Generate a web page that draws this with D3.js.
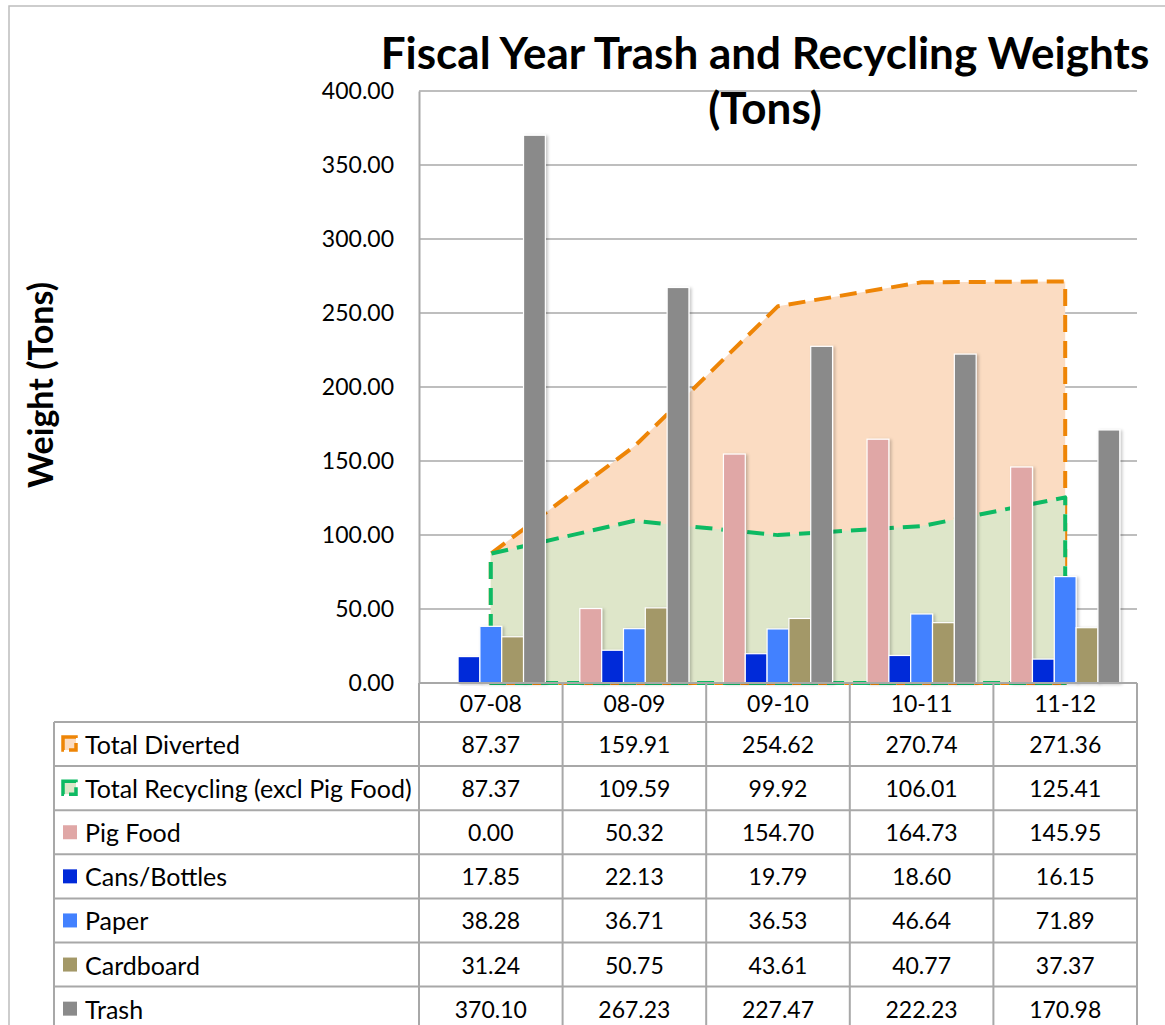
<!DOCTYPE html>
<html>
<head>
<meta charset="utf-8">
<script src="https://cdn.jsdelivr.net/npm/d3@7"></script>
<style>
  html, body { margin: 0; padding: 0; background: #fff; }
  svg { display: block; font-family: Lato, "Open Sans", sans-serif; }
</style>
</head>
<body>
<svg id="chart" width="1165" height="1025"></svg>
<script>
// Fiscal years and tonnage per stream
const categories = ["07-08", "08-09", "09-10", "10-11", "11-12"];
const totalDiverted  = [87.37, 159.91, 254.62, 270.74, 271.36];
const totalRecycling = [87.37, 109.59, 99.92, 106.01, 125.41];
const pigFood   = [0.00, 50.32, 154.70, 164.73, 145.95];
const cans      = [17.85, 22.13, 19.79, 18.60, 16.15];
const paper     = [38.28, 36.71, 36.53, 46.64, 71.89];
const cardboard = [31.24, 50.75, 43.61, 40.77, 37.37];
const trash     = [370.10, 267.23, 227.47, 222.23, 170.98];
const yTicks = [0, 50, 100, 150, 200, 250, 300, 350, 400];

const areaSeries = [
  { name: "Total Diverted", values: totalDiverted, fill: "#FBDCC2", stroke: "#EE8506" },
  { name: "Total Recycling (excl Pig Food)", values: totalRecycling, fill: "#DEE6C9", stroke: "#0DBA63" }
];
const barSeries = [
  { name: "Pig Food", values: pigFood, color: "#E0A7A6" },
  { name: "Cans/Bottles", values: cans, color: "#0029D9" },
  { name: "Paper", values: paper, color: "#4281FF" },
  { name: "Cardboard", values: cardboard, color: "#A39867" },
  { name: "Trash", values: trash, color: "#8A8A8A" }
];

const svg = d3.select("#chart");
const plot = { left: 419, right: 1137, top: 91, bottom: 683 };
const gridColor = "#A8A8A8";

// outer chart frame
svg.append("rect").attr("x", 9).attr("y", 6).attr("width", 1180).attr("height", 1040)
  .attr("fill", "none").attr("stroke", "#BDBDBD").attr("stroke-width", 1.5);

const defs = svg.append("defs");
const shadow = defs.append("filter").attr("id", "barShadow")
  .attr("x", "-30%").attr("y", "-10%").attr("width", "160%").attr("height", "120%");
shadow.append("feDropShadow").attr("dx", 2).attr("dy", 1).attr("stdDeviation", 1.5)
  .attr("flood-color", "#000").attr("flood-opacity", 0.22);

const x0 = d3.scaleBand().domain(categories).range([plot.left, plot.right]).paddingInner(0).paddingOuter(0);
const x1 = d3.scaleBand().domain(barSeries.map(s => s.name)).range([0, x0.bandwidth()])
  .paddingInner(0).paddingOuter(0.79);
const y = d3.scaleLinear().domain([0, 400]).range([plot.bottom, plot.top]);

// gridlines
svg.append("g").selectAll("line").data(yTicks.filter(t => t > 0)).join("line")
  .attr("x1", plot.left).attr("x2", plot.right)
  .attr("y1", d => y(d)).attr("y2", d => y(d))
  .attr("stroke", gridColor).attr("stroke-width", 1.5);

// y axis
const yAxis = svg.append("g").attr("transform", `translate(${plot.left},0)`)
  .call(d3.axisLeft(y).tickValues(yTicks).tickFormat(d3.format(".2f")).tickSize(0).tickPadding(25));
yAxis.select(".domain").attr("stroke", gridColor).attr("stroke-width", 2);
yAxis.selectAll("text").attr("font-size", 23).attr("fill", "#000").attr("font-family", "Lato");

// areas drawn behind the columns, with dashed outlines
const cx = c => x0(c) + x0.bandwidth() / 2;
areaSeries.forEach(s => {
  const pts = categories.map((c, i) => [cx(c), y(s.values[i])]);
  const poly = [[pts[0][0], y(0)], ...pts, [pts[pts.length - 1][0], y(0)]];
  svg.append("path")
    .attr("d", d3.line()(poly) + "Z")
    .attr("fill", s.fill)
    .attr("stroke", s.stroke).attr("stroke-width", 4)
    .attr("stroke-dasharray", "17,9").attr("stroke-linejoin", "round");
});

// clustered columns
const groups = svg.append("g").selectAll("g").data(categories).join("g")
  .attr("transform", c => `translate(${x0(c)},0)`);
barSeries.forEach(s => {
  groups.append("rect")
    .attr("x", x1(s.name))
    .attr("width", x1.bandwidth())
    .attr("y", (c, i) => y(s.values[i]))
    .attr("height", (c, i) => y(0) - y(s.values[i]))
    .attr("fill", s.color)
    .attr("stroke", "#fff").attr("stroke-width", 1.2)
    .attr("filter", "url(#barShadow)")
    .style("display", (c, i) => s.values[i] > 0 ? null : "none");
});

// data table under the plot
const table = { left: 54, headerTop: plot.bottom, top: 722, rowH: 44.1 };
const rows = [...areaSeries, ...barSeries];
const tg = svg.append("g");
const lineAttr = sel => sel.attr("stroke", gridColor).attr("stroke-width", 2);

// header cells (year labels)
categories.forEach(c => {
  tg.append("text").attr("x", cx(c)).attr("y", (table.headerTop + table.top) / 2)
    .attr("text-anchor", "middle").attr("dominant-baseline", "central")
    .attr("font-size", 23).text(c);
});
// horizontal rules
lineAttr(tg.append("line").attr("x1", plot.left).attr("x2", plot.right)
  .attr("y1", plot.bottom).attr("y2", plot.bottom));
d3.range(rows.length + 1).forEach(i => {
  const yy = table.top + i * table.rowH;
  lineAttr(tg.append("line").attr("x1", table.left).attr("x2", plot.right).attr("y1", yy).attr("y2", yy));
});
// vertical rules
const tableBottom = table.top + rows.length * table.rowH;
lineAttr(tg.append("line").attr("x1", table.left).attr("x2", table.left).attr("y1", table.top).attr("y2", tableBottom));
[...categories.map(c => x0(c)), plot.right].forEach(xx => {
  lineAttr(tg.append("line").attr("x1", xx).attr("x2", xx).attr("y1", plot.bottom).attr("y2", tableBottom));
});

rows.forEach((s, r) => {
  const cy = table.top + r * table.rowH + table.rowH / 2;
  // legend key
  if (s.fill) {
    tg.append("rect").attr("x", 63).attr("y", cy - 7).attr("width", 13).attr("height", 13)
      .attr("fill", s.fill).attr("stroke", s.stroke).attr("stroke-width", 3.5)
      .attr("stroke-dasharray", "14,5");
  } else {
    tg.append("rect").attr("x", 63).attr("y", cy - 7).attr("width", 14).attr("height", 14)
      .attr("fill", s.color);
  }
  tg.append("text").attr("x", 85).attr("y", cy).attr("dominant-baseline", "central")
    .attr("font-size", 25).text(s.name);
  categories.forEach((c, i) => {
    tg.append("text").attr("x", cx(c)).attr("y", cy)
      .attr("text-anchor", "middle").attr("dominant-baseline", "central")
      .attr("font-size", 23).text(d3.format(".2f")(s.values[i]));
  });
});

// titles
const title = svg.append("text").attr("x", 765).attr("text-anchor", "middle")
  .attr("font-weight", "bold").attr("font-size", 44);
title.append("tspan").attr("x", 765).attr("y", 69).text("Fiscal Year Trash and Recycling Weights");
title.append("tspan").attr("x", 765).attr("y", 124).text("(Tons)");

svg.append("text").attr("transform", "translate(39,385) rotate(-90)")
  .attr("text-anchor", "middle").attr("dominant-baseline", "central")
  .attr("font-weight", "bold").attr("font-size", 34)
  .text("Weight (Tons)");
</script>
</body>
</html>
